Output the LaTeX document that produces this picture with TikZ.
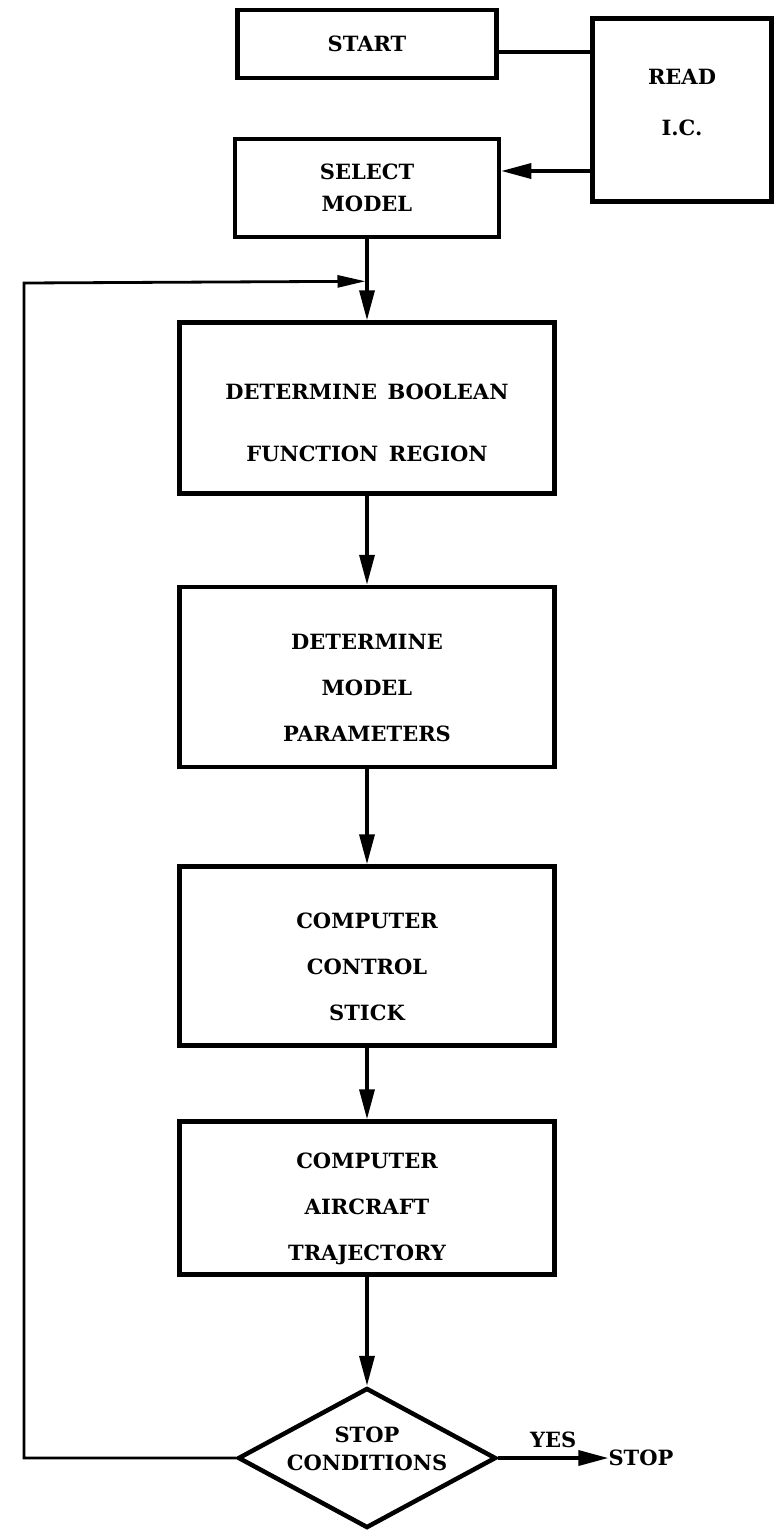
\documentclass[tikz,border=0pt]{standalone}
\usepackage{fontspec}
\setmainfont{DejaVu Serif}
\usetikzlibrary{positioning}
\usetikzlibrary{shapes.geometric}
\usetikzlibrary{arrows.meta}

\begin{document}
\begin{tikzpicture}
    [
    x=1pt, y=-1pt,
    node distance=220pt and 310pt,
    on grid,
    every node/.style={font=\bfseries\fontsize{21}{32}\selectfont, align=center, inner sep=0pt},
    box/.style={draw, rectangle, line width=4.5pt},
    bigbox/.style={box, minimum width=375pt, font=\bfseries\fontsize{21}{46}\selectfont,
        execute at begin node={\rule{0pt}{#1}}},
    bigbox/.default=129pt,
    decision/.style={draw, diamond, line width=4.5pt, aspect=1.84, inner sep=-6pt,
        minimum width=258pt, minimum height=140pt, font=\bfseries\fontsize{21}{28}\selectfont,
        execute at end node={\rule[-18pt]{0pt}{0pt}}},
    flow/.style={line width=3.5pt, -{Triangle[length=30pt, width=15pt]}},
    loopline/.style={line width=2.8pt, -{Triangle[length=28pt, width=12pt]}},
    ]
    \useasboundingbox (0,0) rectangle (777,1534);

    \node[box, minimum width=259pt, minimum height=68pt] (start) at (367,44) {START};
    \node[box, minimum width=179pt, minimum height=183pt, below right=66pt and 315pt of start,
        font=\bfseries\fontsize{21}{51}\selectfont,
        execute at end node={\rule[-16pt]{0pt}{0pt}}] (read) {READ\\I.C.};
    \node[box, minimum width=264pt, minimum height=98pt, below=144pt of start] (select) {SELECT\\MODEL};

    \node[bigbox=107pt, minimum height=171pt, below=of select, font=\bfseries\fontsize{21}{62}\selectfont] (boolean)
        {DETERMINE\enspace BOOLEAN\\FUNCTION\enspace REGION};
    \node[bigbox, minimum height=180pt, below=269pt of boolean] (params) {DETERMINE\\MODEL\\PARAMETERS};
    \node[bigbox, minimum height=179pt, below=279pt of params] (stick) {COMPUTER\\CONTROL\\STICK};
    \node[bigbox, minimum height=153pt, below=242pt of stick] (traj) {COMPUTER\\AIRCRAFT\\TRAJECTORY};

    \node[decision, below=260pt of traj] (cond) {STOP\\CONDITIONS};
    \node[right=274pt of cond] (halt) {STOP};

    % return path
    \coordinate[above=39pt of boolean.north] (loopjoin);
    \coordinate (loopcorner) at (24,283);

    \draw[line width=3.5pt] ([yshift=-8pt]start.east) -- ([yshift=-8pt]start.east -| read.west);
    \draw[flow] ([yshift=17pt]select.east -| read.west) -- ([yshift=17pt]select.east);
    \draw[flow] (select) -- (boolean);
    \draw[flow] (boolean) -- (params);
    \draw[flow] (params) -- (stick);
    \draw[flow] (stick) -- (traj);
    \draw[flow] (traj) -- (cond);
    \draw[flow] (cond) -- node[above=8pt] {YES} (halt);
    \draw[loopline, shorten >=1.5pt] (cond.west) -| (loopcorner) -- (loopjoin);
\end{tikzpicture}
\end{document}
